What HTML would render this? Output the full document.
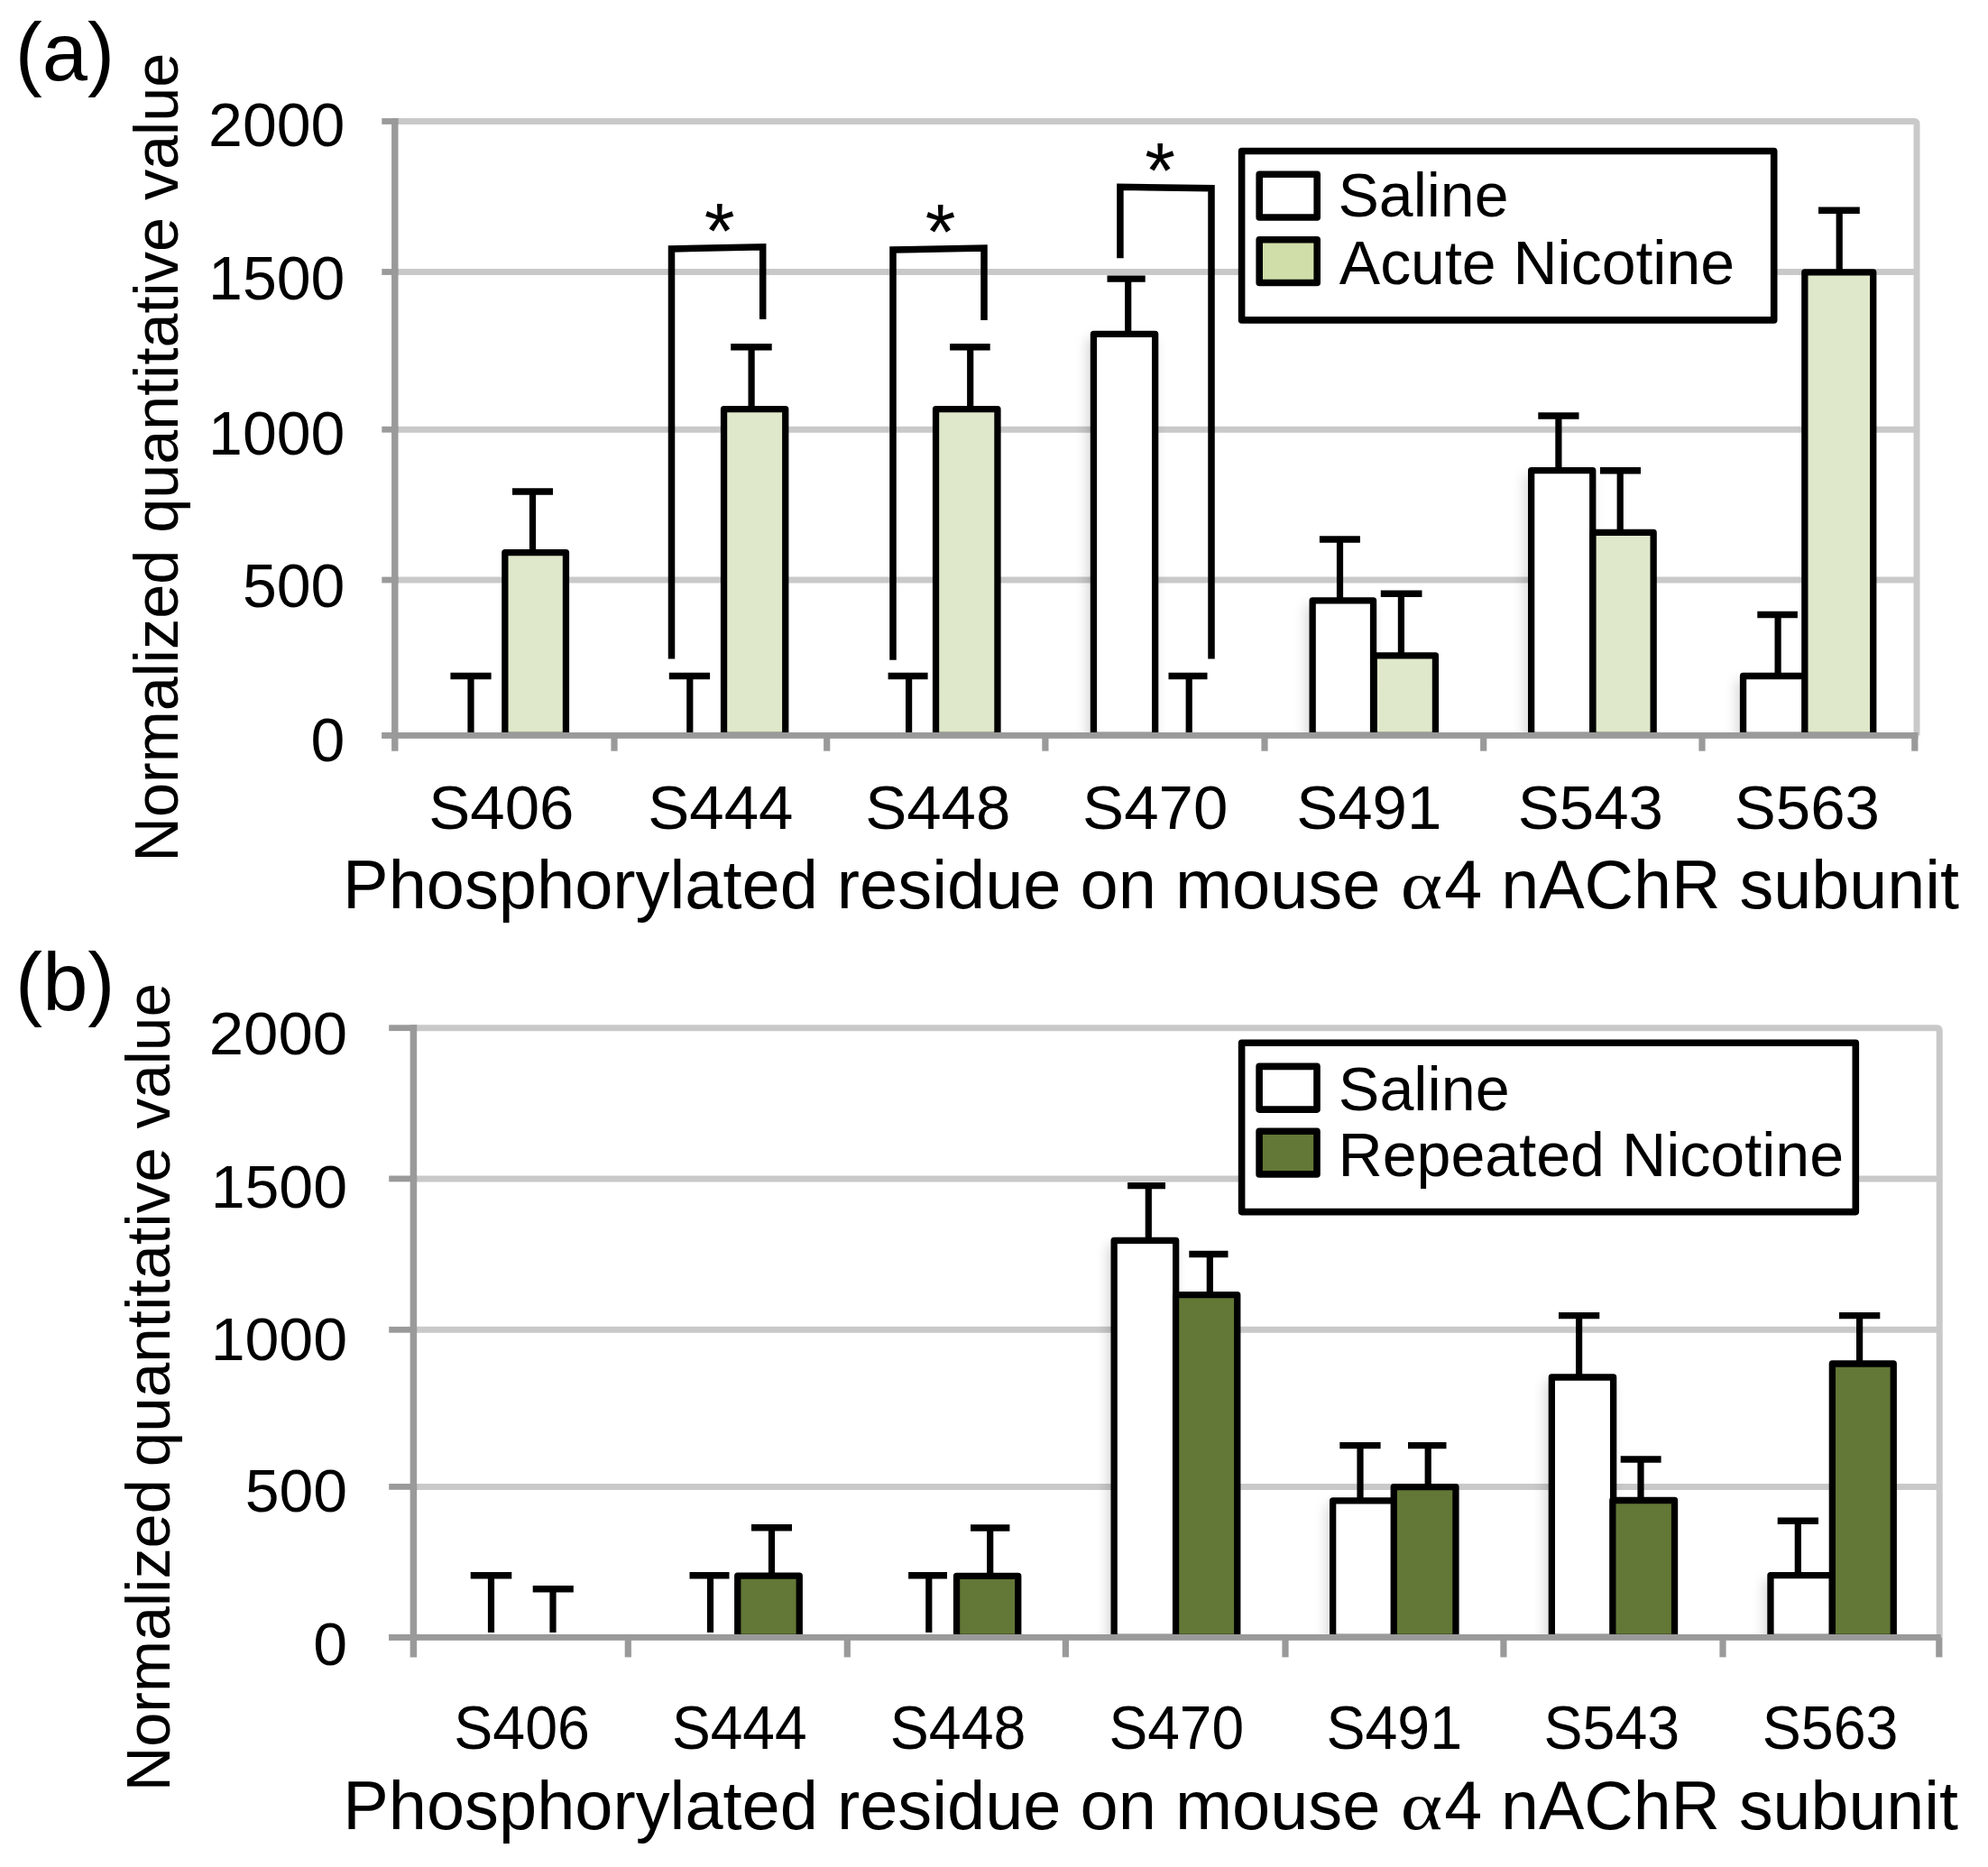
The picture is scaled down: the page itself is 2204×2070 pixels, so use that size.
<!DOCTYPE html>
<html lang="en"><head><meta charset="utf-8"><title>Figure: phosphorylated residues on mouse α4 nAChR subunit</title>
<style>
html,body{margin:0;padding:0;background:#fff}
svg{display:block}
text{fill:#000}
</style></head>
<body>
<svg width="2204" height="2070" viewBox="0 0 2204 2070">
<defs>
<filter id="sh" x="-40%" y="-10%" width="180%" height="120%" color-interpolation-filters="sRGB">
<feDropShadow dx="-4" dy="8" stdDeviation="6.5" flood-color="#000" flood-opacity="0.15"/>
</filter>
</defs>
<rect width="2204" height="2070" fill="#fff"/>
<line x1="437.8" y1="301.5" x2="2125" y2="301.5" stroke="#c9c9c9" stroke-width="7" stroke-linecap="butt"/>
<line x1="437.8" y1="476.2" x2="2125" y2="476.2" stroke="#c9c9c9" stroke-width="7" stroke-linecap="butt"/>
<line x1="437.8" y1="643" x2="2125" y2="643" stroke="#c9c9c9" stroke-width="7" stroke-linecap="butt"/>
<line x1="437.8" y1="815.4" x2="2125" y2="815.4" stroke="#c9c9c9" stroke-width="7" stroke-linecap="butt"/>
<path d="M437.8,134.5 H2122 Q2125,134.5 2125,137.5 V815.4" fill="none" stroke="#c9c9c9" stroke-width="7"/>
<clipPath id="cp815"><rect x="0" y="-65.5" width="2204" height="880.9"/></clipPath>
<g clip-path="url(#cp815)">
<rect x="1212.45" y="370.4" width="68.2" height="445" fill="#fff" stroke="#000" stroke-width="7.3" stroke-linejoin="round" filter="url(#sh)"/>
<rect x="1455.15" y="665.9" width="67.4" height="149.5" fill="#fff" stroke="#000" stroke-width="7.3" stroke-linejoin="round" filter="url(#sh)"/>
<rect x="1697.65" y="521.7" width="68.1" height="293.7" fill="#fff" stroke="#000" stroke-width="7.3" stroke-linejoin="round" filter="url(#sh)"/>
<rect x="1932.55" y="749.5" width="68.8" height="65.9" fill="#fff" stroke="#000" stroke-width="7.3" stroke-linejoin="round" filter="url(#sh)"/>
<rect x="559.85" y="612.7" width="67.6" height="202.7" fill="#dfe8ca" stroke="#000" stroke-width="7.3" stroke-linejoin="round"/>
<rect x="802.55" y="453.7" width="68.2" height="361.7" fill="#dfe8ca" stroke="#000" stroke-width="7.3" stroke-linejoin="round"/>
<rect x="1037.55" y="453.7" width="68.4" height="361.7" fill="#dfe8ca" stroke="#000" stroke-width="7.3" stroke-linejoin="round"/>
<rect x="1523.25" y="726.9" width="68.2" height="88.5" fill="#dfe8ca" stroke="#000" stroke-width="7.3" stroke-linejoin="round"/>
<rect x="1765.95" y="590.4" width="67.2" height="225" fill="#dfe8ca" stroke="#000" stroke-width="7.3" stroke-linejoin="round"/>
<rect x="2000.85" y="301.8" width="75.9" height="513.6" fill="#dfe8ca" stroke="#000" stroke-width="7.3" stroke-linejoin="round"/>
</g>
<line x1="522" y1="749.5" x2="522" y2="815.4" stroke="#000" stroke-width="7.2" stroke-linecap="butt"/>
<line x1="499.4" y1="749.5" x2="544.6" y2="749.5" stroke="#000" stroke-width="7.4" stroke-linecap="butt"/>
<line x1="590.5" y1="545" x2="590.5" y2="612.7" stroke="#000" stroke-width="7.2" stroke-linecap="butt"/>
<line x1="568" y1="545" x2="613" y2="545" stroke="#000" stroke-width="7.4" stroke-linecap="butt"/>
<line x1="764.8" y1="749.5" x2="764.8" y2="815.4" stroke="#000" stroke-width="7.2" stroke-linecap="butt"/>
<line x1="741.8" y1="749.5" x2="787.1" y2="749.5" stroke="#000" stroke-width="7.4" stroke-linecap="butt"/>
<line x1="833.1" y1="384.8" x2="833.1" y2="453.7" stroke="#000" stroke-width="7.2" stroke-linecap="butt"/>
<line x1="810.2" y1="384.8" x2="855.7" y2="384.8" stroke="#000" stroke-width="7.4" stroke-linecap="butt"/>
<line x1="1007.6" y1="749.5" x2="1007.6" y2="815.4" stroke="#000" stroke-width="7.2" stroke-linecap="butt"/>
<line x1="984.6" y1="749.5" x2="1028.6" y2="749.5" stroke="#000" stroke-width="7.4" stroke-linecap="butt"/>
<line x1="1075.7" y1="384.8" x2="1075.7" y2="453.7" stroke="#000" stroke-width="7.2" stroke-linecap="butt"/>
<line x1="1053.1" y1="384.8" x2="1097.7" y2="384.8" stroke="#000" stroke-width="7.4" stroke-linecap="butt"/>
<line x1="1250.7" y1="309.1" x2="1250.7" y2="370.4" stroke="#000" stroke-width="7.2" stroke-linecap="butt"/>
<line x1="1227.5" y1="309.1" x2="1269.7" y2="309.1" stroke="#000" stroke-width="7.4" stroke-linecap="butt"/>
<line x1="1318.2" y1="749.5" x2="1318.2" y2="815.4" stroke="#000" stroke-width="7.2" stroke-linecap="butt"/>
<line x1="1295.5" y1="749.5" x2="1338.5" y2="749.5" stroke="#000" stroke-width="7.4" stroke-linecap="butt"/>
<line x1="1485.5" y1="598" x2="1485.5" y2="665.9" stroke="#000" stroke-width="7.2" stroke-linecap="butt"/>
<line x1="1462.9" y1="598" x2="1507.9" y2="598" stroke="#000" stroke-width="7.4" stroke-linecap="butt"/>
<line x1="1553.4" y1="658.3" x2="1553.4" y2="726.9" stroke="#000" stroke-width="7.2" stroke-linecap="butt"/>
<line x1="1530.8" y1="658.3" x2="1576.5" y2="658.3" stroke="#000" stroke-width="7.4" stroke-linecap="butt"/>
<line x1="1727.9" y1="461" x2="1727.9" y2="521.7" stroke="#000" stroke-width="7.2" stroke-linecap="butt"/>
<line x1="1705.3" y1="461" x2="1750.5" y2="461" stroke="#000" stroke-width="7.4" stroke-linecap="butt"/>
<line x1="1796.2" y1="521.7" x2="1796.2" y2="590.4" stroke="#000" stroke-width="7.2" stroke-linecap="butt"/>
<line x1="1773.9" y1="521.7" x2="1819" y2="521.7" stroke="#000" stroke-width="7.4" stroke-linecap="butt"/>
<line x1="1971.1" y1="681.5" x2="1971.1" y2="749.5" stroke="#000" stroke-width="7.2" stroke-linecap="butt"/>
<line x1="1948.3" y1="681.5" x2="1992.9" y2="681.5" stroke="#000" stroke-width="7.4" stroke-linecap="butt"/>
<line x1="2039.2" y1="233.2" x2="2039.2" y2="301.8" stroke="#000" stroke-width="7.2" stroke-linecap="butt"/>
<line x1="2016" y1="233.2" x2="2061.8" y2="233.2" stroke="#000" stroke-width="7.4" stroke-linecap="butt"/>
<path d="M744.5,730.5 L744.5,276 L845.7,273.8 L845.7,353.9" fill="none" stroke="#000" stroke-width="7.5" stroke-linejoin="miter"/>
<path d="M990,731.8 L990,277 L1091,275 L1091,355" fill="none" stroke="#000" stroke-width="7.5" stroke-linejoin="miter"/>
<path d="M1241.9,286.3 L1241.9,207.3 L1343,208.7 L1343,730.5" fill="none" stroke="#000" stroke-width="7.5" stroke-linejoin="miter"/>
<rect x="1376.6" y="167.5" width="590.1" height="187.4" fill="#fff" stroke="#000" stroke-width="7.6" stroke-linejoin="round"/>
<rect x="1396.2" y="193.3" width="64" height="47.7" fill="#fff" stroke="#000" stroke-width="7.6" stroke-linejoin="round"/>
<rect x="1396.2" y="265.8" width="64" height="47.7" fill="#d0dea9" stroke="#000" stroke-width="7.6" stroke-linejoin="round"/>
<line x1="423.3" y1="134.5" x2="441.5" y2="134.5" stroke="#9a9a9a" stroke-width="6.8" stroke-linecap="butt"/>
<line x1="423.3" y1="301.5" x2="441.5" y2="301.5" stroke="#9a9a9a" stroke-width="6.8" stroke-linecap="butt"/>
<line x1="423.3" y1="476.2" x2="441.5" y2="476.2" stroke="#9a9a9a" stroke-width="6.8" stroke-linecap="butt"/>
<line x1="423.3" y1="643" x2="441.5" y2="643" stroke="#9a9a9a" stroke-width="6.8" stroke-linecap="butt"/>
<line x1="423.3" y1="815.4" x2="441.5" y2="815.4" stroke="#9a9a9a" stroke-width="6.8" stroke-linecap="butt"/>
<line x1="681" y1="815.4" x2="681" y2="832.7" stroke="#9a9a9a" stroke-width="7.2" stroke-linecap="butt"/>
<line x1="916.7" y1="815.4" x2="916.7" y2="832.7" stroke="#9a9a9a" stroke-width="7.2" stroke-linecap="butt"/>
<line x1="1158.9" y1="815.4" x2="1158.9" y2="832.7" stroke="#9a9a9a" stroke-width="7.2" stroke-linecap="butt"/>
<line x1="1402" y1="815.4" x2="1402" y2="832.7" stroke="#9a9a9a" stroke-width="7.2" stroke-linecap="butt"/>
<line x1="1644.7" y1="815.4" x2="1644.7" y2="832.7" stroke="#9a9a9a" stroke-width="7.2" stroke-linecap="butt"/>
<line x1="1887" y1="815.4" x2="1887" y2="832.7" stroke="#9a9a9a" stroke-width="7.2" stroke-linecap="butt"/>
<line x1="2122.8" y1="815.4" x2="2122.8" y2="832.7" stroke="#9a9a9a" stroke-width="7.2" stroke-linecap="butt"/>
<line x1="437.8" y1="131.1" x2="437.8" y2="832.7" stroke="#9a9a9a" stroke-width="7.4" stroke-linecap="butt"/>
<line x1="423.3" y1="815.4" x2="2126.5" y2="815.4" stroke="#9a9a9a" stroke-width="6.7" stroke-linecap="butt"/>
<line x1="458.4" y1="1306.9" x2="2150.2" y2="1306.9" stroke="#c9c9c9" stroke-width="7" stroke-linecap="butt"/>
<line x1="458.4" y1="1474.3" x2="2150.2" y2="1474.3" stroke="#c9c9c9" stroke-width="7" stroke-linecap="butt"/>
<line x1="458.4" y1="1648.4" x2="2150.2" y2="1648.4" stroke="#c9c9c9" stroke-width="7" stroke-linecap="butt"/>
<line x1="458.4" y1="1815.4" x2="2150.2" y2="1815.4" stroke="#c9c9c9" stroke-width="7" stroke-linecap="butt"/>
<path d="M458.4,1139.7 H2147.2 Q2150.2,1139.7 2150.2,1142.7 V1815.4" fill="none" stroke="#c9c9c9" stroke-width="7"/>
<clipPath id="cp1815"><rect x="0" y="939.7" width="2204" height="875.7"/></clipPath>
<g clip-path="url(#cp1815)">
<rect x="1235.15" y="1375.4" width="68.5" height="440" fill="#fff" stroke="#000" stroke-width="7.3" stroke-linejoin="round" filter="url(#sh)"/>
<rect x="1477.65" y="1663.8" width="68.3" height="151.6" fill="#fff" stroke="#000" stroke-width="7.3" stroke-linejoin="round" filter="url(#sh)"/>
<rect x="1720.35" y="1527" width="68.3" height="288.4" fill="#fff" stroke="#000" stroke-width="7.3" stroke-linejoin="round" filter="url(#sh)"/>
<rect x="1962.95" y="1746.6" width="68.4" height="68.8" fill="#fff" stroke="#000" stroke-width="7.3" stroke-linejoin="round" filter="url(#sh)"/>
<rect x="817.75" y="1747.2" width="68.5" height="68.2" fill="#637736" stroke="#000" stroke-width="7.3" stroke-linejoin="round"/>
<rect x="1060.55" y="1747.4" width="68.2" height="68" fill="#637736" stroke="#000" stroke-width="7.3" stroke-linejoin="round"/>
<rect x="1303.55" y="1435.7" width="68.2" height="379.7" fill="#637736" stroke="#000" stroke-width="7.3" stroke-linejoin="round"/>
<rect x="1545.25" y="1648.7" width="68.7" height="166.7" fill="#637736" stroke="#000" stroke-width="7.3" stroke-linejoin="round"/>
<rect x="1787.85" y="1663.5" width="68.7" height="151.9" fill="#637736" stroke="#000" stroke-width="7.3" stroke-linejoin="round"/>
<rect x="2031.35" y="1512" width="67.9" height="303.4" fill="#637736" stroke="#000" stroke-width="7.3" stroke-linejoin="round"/>
</g>
<line x1="544.5" y1="1746.8" x2="544.5" y2="1810" stroke="#000" stroke-width="7.2" stroke-linecap="butt"/>
<line x1="521.7" y1="1746.8" x2="567.3" y2="1746.8" stroke="#000" stroke-width="7.4" stroke-linecap="butt"/>
<line x1="613" y1="1761.8" x2="613" y2="1810" stroke="#000" stroke-width="7.2" stroke-linecap="butt"/>
<line x1="590.7" y1="1761.8" x2="635.8" y2="1761.8" stroke="#000" stroke-width="7.4" stroke-linecap="butt"/>
<line x1="787.5" y1="1746.8" x2="787.5" y2="1810" stroke="#000" stroke-width="7.2" stroke-linecap="butt"/>
<line x1="764.5" y1="1746.8" x2="808.5" y2="1746.8" stroke="#000" stroke-width="7.4" stroke-linecap="butt"/>
<line x1="855.5" y1="1693.7" x2="855.5" y2="1747.2" stroke="#000" stroke-width="7.2" stroke-linecap="butt"/>
<line x1="833" y1="1693.7" x2="878" y2="1693.7" stroke="#000" stroke-width="7.4" stroke-linecap="butt"/>
<line x1="1029.8" y1="1746.8" x2="1029.8" y2="1810" stroke="#000" stroke-width="7.2" stroke-linecap="butt"/>
<line x1="1007.1" y1="1746.8" x2="1050" y2="1746.8" stroke="#000" stroke-width="7.4" stroke-linecap="butt"/>
<line x1="1097.7" y1="1694" x2="1097.7" y2="1747.4" stroke="#000" stroke-width="7.2" stroke-linecap="butt"/>
<line x1="1076" y1="1694" x2="1119.4" y2="1694" stroke="#000" stroke-width="7.4" stroke-linecap="butt"/>
<line x1="1273.3" y1="1314.6" x2="1273.3" y2="1375.4" stroke="#000" stroke-width="7.2" stroke-linecap="butt"/>
<line x1="1250.1" y1="1314.6" x2="1292" y2="1314.6" stroke="#000" stroke-width="7.4" stroke-linecap="butt"/>
<line x1="1341.3" y1="1390.5" x2="1341.3" y2="1435.7" stroke="#000" stroke-width="7.2" stroke-linecap="butt"/>
<line x1="1318.3" y1="1390.5" x2="1361.5" y2="1390.5" stroke="#000" stroke-width="7.4" stroke-linecap="butt"/>
<line x1="1508" y1="1602.6" x2="1508" y2="1663.8" stroke="#000" stroke-width="7.2" stroke-linecap="butt"/>
<line x1="1485.3" y1="1602.6" x2="1530.6" y2="1602.6" stroke="#000" stroke-width="7.4" stroke-linecap="butt"/>
<line x1="1583.2" y1="1602.6" x2="1583.2" y2="1648.7" stroke="#000" stroke-width="7.2" stroke-linecap="butt"/>
<line x1="1561" y1="1602.6" x2="1603.5" y2="1602.6" stroke="#000" stroke-width="7.4" stroke-linecap="butt"/>
<line x1="1750.6" y1="1458.6" x2="1750.6" y2="1527" stroke="#000" stroke-width="7.2" stroke-linecap="butt"/>
<line x1="1728" y1="1458.6" x2="1773.3" y2="1458.6" stroke="#000" stroke-width="7.4" stroke-linecap="butt"/>
<line x1="1819" y1="1618" x2="1819" y2="1663.5" stroke="#000" stroke-width="7.2" stroke-linecap="butt"/>
<line x1="1796.7" y1="1618" x2="1841.6" y2="1618" stroke="#000" stroke-width="7.4" stroke-linecap="butt"/>
<line x1="1993.3" y1="1686.3" x2="1993.3" y2="1746.6" stroke="#000" stroke-width="7.2" stroke-linecap="butt"/>
<line x1="1970.7" y1="1686.3" x2="2016" y2="1686.3" stroke="#000" stroke-width="7.4" stroke-linecap="butt"/>
<line x1="2061.6" y1="1458.6" x2="2061.6" y2="1512" stroke="#000" stroke-width="7.2" stroke-linecap="butt"/>
<line x1="2039" y1="1458.6" x2="2084.3" y2="1458.6" stroke="#000" stroke-width="7.4" stroke-linecap="butt"/>
<rect x="1376.6" y="1156.2" width="680.7" height="187.4" fill="#fff" stroke="#000" stroke-width="7.6" stroke-linejoin="round"/>
<rect x="1396.1" y="1182.4" width="63.9" height="47.7" fill="#fff" stroke="#000" stroke-width="7.6" stroke-linejoin="round"/>
<rect x="1396.1" y="1254.2" width="63.9" height="47.7" fill="#637736" stroke="#000" stroke-width="7.6" stroke-linejoin="round"/>
<line x1="431.2" y1="1139.7" x2="462.15" y2="1139.7" stroke="#9a9a9a" stroke-width="6.8" stroke-linecap="butt"/>
<line x1="431.2" y1="1306.9" x2="462.15" y2="1306.9" stroke="#9a9a9a" stroke-width="6.8" stroke-linecap="butt"/>
<line x1="431.2" y1="1474.3" x2="462.15" y2="1474.3" stroke="#9a9a9a" stroke-width="6.8" stroke-linecap="butt"/>
<line x1="431.2" y1="1648.4" x2="462.15" y2="1648.4" stroke="#9a9a9a" stroke-width="6.8" stroke-linecap="butt"/>
<line x1="431.2" y1="1815.4" x2="462.15" y2="1815.4" stroke="#9a9a9a" stroke-width="6.8" stroke-linecap="butt"/>
<line x1="696.3" y1="1815.4" x2="696.3" y2="1837.4" stroke="#9a9a9a" stroke-width="7.2" stroke-linecap="butt"/>
<line x1="939.3" y1="1815.4" x2="939.3" y2="1837.4" stroke="#9a9a9a" stroke-width="7.2" stroke-linecap="butt"/>
<line x1="1181.4" y1="1815.4" x2="1181.4" y2="1837.4" stroke="#9a9a9a" stroke-width="7.2" stroke-linecap="butt"/>
<line x1="1425" y1="1815.4" x2="1425" y2="1837.4" stroke="#9a9a9a" stroke-width="7.2" stroke-linecap="butt"/>
<line x1="1666.9" y1="1815.4" x2="1666.9" y2="1837.4" stroke="#9a9a9a" stroke-width="7.2" stroke-linecap="butt"/>
<line x1="1910" y1="1815.4" x2="1910" y2="1837.4" stroke="#9a9a9a" stroke-width="7.2" stroke-linecap="butt"/>
<line x1="2149.8" y1="1815.4" x2="2149.8" y2="1837.4" stroke="#9a9a9a" stroke-width="7.2" stroke-linecap="butt"/>
<line x1="458.4" y1="1136.3" x2="458.4" y2="1837.4" stroke="#9a9a9a" stroke-width="7.5" stroke-linecap="butt"/>
<line x1="431.2" y1="1815.4" x2="2151.7" y2="1815.4" stroke="#9a9a9a" stroke-width="6.7" stroke-linecap="butt"/>
<text x="16.77" y="89" font-size="90.3" font-family='"Liberation Sans", sans-serif'>(a)</text>
<text x="231.12" y="162.2" font-size="68" font-family='"Liberation Sans", sans-serif'>2000</text>
<text x="231.12" y="331.8" font-size="68" font-family='"Liberation Sans", sans-serif'>1500</text>
<text x="231.12" y="504" font-size="68" font-family='"Liberation Sans", sans-serif'>1000</text>
<text x="268.94" y="673.3" font-size="68" font-family='"Liberation Sans", sans-serif'>500</text>
<text x="344.57" y="844.3" font-size="68" font-family='"Liberation Sans", sans-serif'>0</text>
<text x="475.25" y="918.8" font-size="69" font-family='"Liberation Sans", sans-serif'>S406</text>
<text x="718.31" y="918.8" font-size="69" font-family='"Liberation Sans", sans-serif'>S444</text>
<text x="959.15" y="918.8" font-size="69" font-family='"Liberation Sans", sans-serif'>S448</text>
<text x="1200.11" y="918.8" font-size="69" font-family='"Liberation Sans", sans-serif'>S470</text>
<text x="1437.15" y="918.8" font-size="69" font-family='"Liberation Sans", sans-serif'>S491</text>
<text x="1682.75" y="918.8" font-size="69" font-family='"Liberation Sans", sans-serif'>S543</text>
<text x="1922.75" y="918.8" font-size="69" font-family='"Liberation Sans", sans-serif'>S563</text>
<text x="380.08" y="1007" font-size="75.8" font-family='"Liberation Sans", sans-serif'>Phosphorylated residue on mouse</text>
<text transform="translate(1552.63,1007.4) scale(1.1654,1)" font-size="76" font-family='"Liberation Serif", serif'>α</text>
<text x="1601.22" y="1007" font-size="75.49" font-family='"Liberation Sans", sans-serif'>4 nAChR subunit</text>
<text transform="translate(197,955.44) rotate(-90) scale(1.0000,1)" font-size="68.36" font-family='"Liberation Sans", sans-serif'>Normalized quantitative value</text>
<text x="1483.47" y="240.2" font-size="68" font-family='"Liberation Sans", sans-serif'>Saline</text>
<text x="1484.8" y="315" font-size="67.97" font-family='"Liberation Sans", sans-serif'>Acute Nicotine</text>
<text x="780.77" y="285.71" font-size="87.2" font-family='"Liberation Sans", sans-serif'>*</text>
<text x="1025.77" y="287.14" font-size="86.67" font-family='"Liberation Sans", sans-serif'>*</text>
<text x="1269.37" y="218.94" font-size="86.67" font-family='"Liberation Sans", sans-serif'>*</text>
<text x="17.07" y="1119.6" font-size="90.3" font-family='"Liberation Sans", sans-serif'>(b)</text>
<text transform="translate(231.77,1169) scale(1.0366,1)" font-size="66.5" font-family='"Liberation Sans", sans-serif'>2000</text>
<text transform="translate(233.65,1338.8) scale(1.0238,1)" font-size="66.5" font-family='"Liberation Sans", sans-serif'>1500</text>
<text transform="translate(233.65,1507.8) scale(1.0238,1)" font-size="66.5" font-family='"Liberation Sans", sans-serif'>1000</text>
<text transform="translate(271.78,1676.3) scale(1.0213,1)" font-size="66.5" font-family='"Liberation Sans", sans-serif'>500</text>
<text transform="translate(347.27,1846.2) scale(1.0226,1)" font-size="66.5" font-family='"Liberation Sans", sans-serif'>0</text>
<text transform="translate(503.28,1939.2) scale(0.9443,1)" font-size="68.3" font-family='"Liberation Sans", sans-serif'>S406</text>
<text transform="translate(745,1939.2) scale(0.9378,1)" font-size="68.3" font-family='"Liberation Sans", sans-serif'>S444</text>
<text transform="translate(986.78,1939.2) scale(0.9443,1)" font-size="68.3" font-family='"Liberation Sans", sans-serif'>S448</text>
<text transform="translate(1229.5,1939.2) scale(0.9378,1)" font-size="68.3" font-family='"Liberation Sans", sans-serif'>S470</text>
<text transform="translate(1470.48,1939.2) scale(0.9443,1)" font-size="68.3" font-family='"Liberation Sans", sans-serif'>S491</text>
<text transform="translate(1711.58,1939.2) scale(0.9443,1)" font-size="68.3" font-family='"Liberation Sans", sans-serif'>S543</text>
<text transform="translate(1953.78,1939.2) scale(0.9443,1)" font-size="68.3" font-family='"Liberation Sans", sans-serif'>S563</text>
<text x="380.28" y="2028" font-size="75.79" font-family='"Liberation Sans", sans-serif'>Phosphorylated residue on mouse</text>
<text transform="translate(1552.63,2028.4) scale(1.1654,1)" font-size="76" font-family='"Liberation Serif", serif'>α</text>
<text x="1601.22" y="2028" font-size="75.36" font-family='"Liberation Sans", sans-serif'>4 nAChR subunit</text>
<text transform="translate(188.2,1986.04) rotate(-90) scale(0.9909,1)" font-size="69" font-family='"Liberation Sans", sans-serif'>Normalized</text>
<text transform="translate(188.2,1626.36) rotate(-90) scale(1.0038,1)" font-size="69" font-family='"Liberation Sans", sans-serif'>quantitative</text>
<text transform="translate(188.2,1251.4) rotate(-90) scale(0.9781,1)" font-size="69" font-family='"Liberation Sans", sans-serif'>value</text>
<text x="1483.87" y="1230.5" font-size="68.28" font-family='"Liberation Sans", sans-serif'>Saline</text>
<text x="1483.48" y="1304" font-size="68.15" font-family='"Liberation Sans", sans-serif'>Repeated Nicotine</text>
</svg>
</body></html>
